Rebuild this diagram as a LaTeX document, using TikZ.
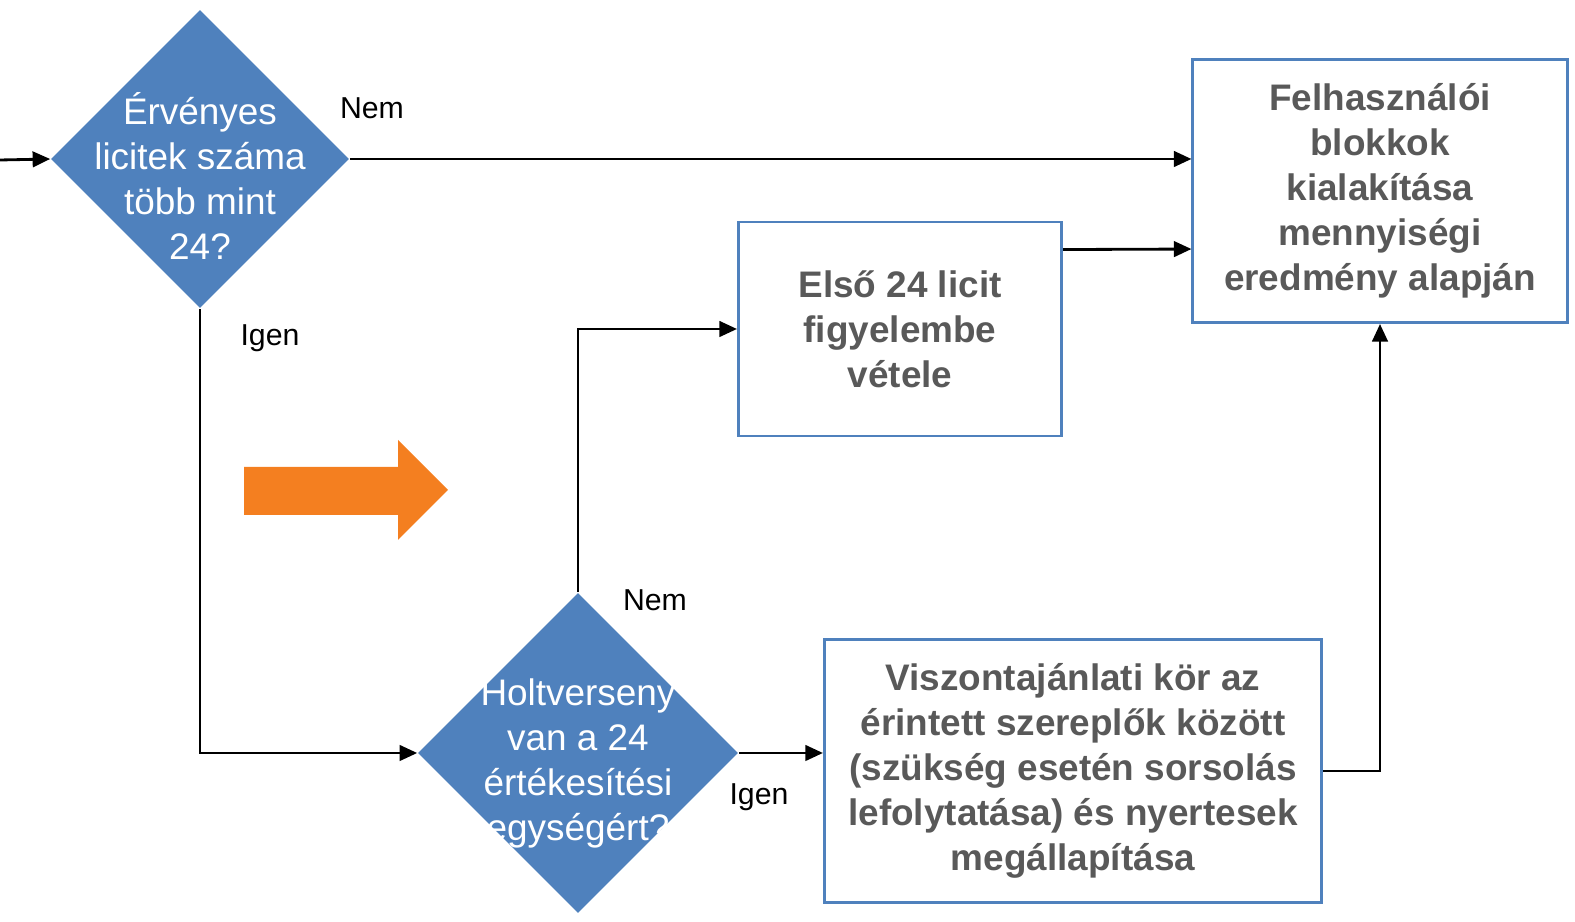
\documentclass[tikz,border=0pt]{standalone}
\usepackage{fontspec}
\setmainfont{Liberation Sans}
\usetikzlibrary{positioning}
\usetikzlibrary{shapes.geometric}
\usetikzlibrary{arrows.meta}
\definecolor{kek}{HTML}{4F81BD}
\definecolor{szurke}{HTML}{595959}
\definecolor{narancs}{HTML}{F47F20}

\begin{document}
\begin{tikzpicture}[x=0.01cm, y=-0.01cm,
    dontes/.style={diamond, aspect=1, fill=kek, inner sep=0pt},
    kerdes/.style={text=white, align=center, inner sep=0pt, font=\fontsize{10.5}{12.8}\selectfont},
    doboz/.style={draw=kek, line width=0.8pt, align=center, inner sep=0pt, text=szurke, font=\fontsize{10.5}{12.8}\selectfont\bfseries},
    felirat/.style={inner sep=0pt, font=\fontsize{8.6}{10}\selectfont},
    nyil/.style={-{Triangle[length=5pt,width=4.4pt]}, line width=0.8pt}]
              \useasboundingbox (0,0) rectangle (1575,922);
              % Csomopontok
              \coordinate (start) at (0,160);
              \node[dontes, minimum size=2.98cm] (d1) at (200,159) {};
              \node[kerdes] (d1t) at (200,176) {Érvényes\\licitek száma\\több mint\\24?};
              \node[dontes, minimum size=3.2cm] (d2) at (578,753) {};
              \node[kerdes] (d2t) at (578,763) {Holtverseny\\van a 24\\értékesítési\\egységért?};
              \node[doboz, minimum width=3.74cm, minimum height=2.63cm] (felh) at (1380,191) {Felhasználói\\blokkok\\kialakítása\\mennyiségi\\eredmény alapján};
              \node[doboz, minimum width=3.23cm, minimum height=2.14cm] (elso) at (900,329) {Első 24 licit\\figyelembe\\vétele};
              \node[doboz, minimum width=4.97cm, minimum height=2.63cm] (visz) at (1073,771) {Viszontajánlati kör az\\érintett szereplők között\\(szükség esetén sorsolás\\lefolytatása) és nyertesek\\megállapítása};

              % Feliratok
              \node[felirat] (nem1) at (372,108) {Nem};
              \node[felirat] (igen1) at (270,338) {Igen};
              \node[felirat] (nem2) at (655,600) {Nem};
              \node[felirat] (igen2) at (759,797) {Igen};

              % Narancs nyil
              \fill[narancs] (244,467) -- (398,467) -- (398,440) -- (448,490) -- (398,540) -- (398,515) -- (244,515) -- cycle;

              % Elek
              \draw[nyil] (start) -- (d1.west);
              \draw[nyil] (d1.east) -- (felh.west |- d1.east);
              \draw[nyil] ([yshift=-0.29cm]elso.north east) -- ([yshift=-0.58cm]felh.west);
              \draw[nyil] (d1.south) |- (d2.west);
              \draw[nyil] (d2.north) |- (elso.west);
              \draw[nyil] (d2.east) -- (visz.west |- d2.east);
              \draw[nyil] (visz.east) -| (felh.south);
            \end{tikzpicture}
\end{document}
